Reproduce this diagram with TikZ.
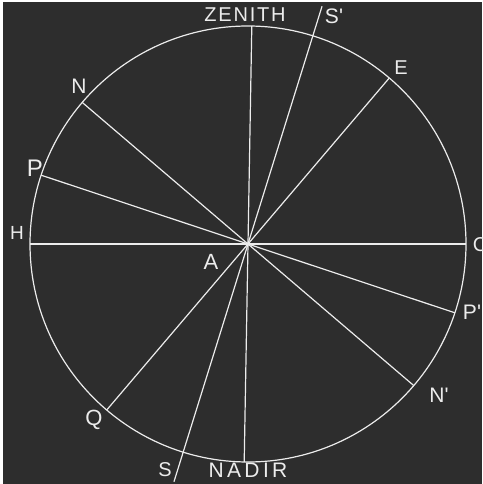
\documentclass[tikz,border=0pt]{standalone}
\usepackage{fontspec}
\newfontfamily\lblfont{Liberation Sans}
\definecolor{board}{HTML}{2D2D2D}
\definecolor{chalk}{HTML}{ECECEC}
\tikzset{
  chalkline/.style={draw=chalk,line width=1.2pt},
  lbl/.style={text=chalk,inner sep=0pt,font=\lblfont\fontsize{#1}{#1}\selectfont},
  lbl/.default=20
}

\begin{document}
\begin{tikzpicture}[x=1pt,y=1pt]
\useasboundingbox (0,0) rectangle (482,484);
\fill[white] (0,0) rectangle (482,484);
\fill[board] (3,0) rectangle (482,482);
\coordinate (A) at (248,240);
\def\rad{218}
\draw[chalkline] (A) circle[radius=\rad];
% points on the circle
\coordinate (zen) at ([shift={(89:\rad)}]A);
\coordinate (nad) at ([shift={(269:\rad)}]A);
\coordinate (E)   at ([shift={(49.6:\rad)}]A);
\coordinate (Q)   at ([shift={(229.6:\rad)}]A);
\coordinate (N)   at ([shift={(139.5:\rad)}]A);
\coordinate (N')  at ([shift={(-40.5:\rad)}]A);
\coordinate (P)   at ([shift={(161.6:\rad)}]A);
\coordinate (P')  at ([shift={(-18.4:\rad)}]A);
\coordinate (H)   at ([shift={(180:\rad)}]A);
\coordinate (C)   at ([shift={(0:\rad)}]A);
\coordinate (S')  at ([shift={(72.7:249)}]A);
\coordinate (S)   at ([shift={(252.7:249)}]A);
% diameters
\draw[chalkline] (zen) -- (nad);
\draw[chalkline] (E) -- (Q);
\draw[chalkline] (N) -- (N');
\draw[chalkline] (P) -- (P');
\draw[chalkline] (H) -- (C);
\draw[chalkline] (S') -- (S);
\fill[chalk] (A) circle[radius=1.8];
% labels
\node[lbl=20] (zenith) at (245,469) {\addfontfeature{LetterSpace=9}ZENITH};
\node[lbl=21] (nadir) at (248,14) {\addfontfeature{LetterSpace=16}NADIR};
\node[lbl=21] (lS') at (334,468) {S'};
\node[lbl=20] (lS) at (165,14) {S};
\node[lbl=20] (lE) at (401,416) {E};
\node[lbl=21] (lN) at (79,398) {N};
\node[lbl=24] (lP) at (35,316) {P};
\node[lbl=19] (lH) at (17,251) {H};
\node[lbl=20] (lC) at (480,239) {C};
\node[lbl=22] (lA) at (211,222) {A};
\node[lbl=21] (lP') at (472,172) {P'};
\node[lbl=21] (lN') at (439,89) {N'};
\node[lbl=22] (lQ) at (94,64) {Q};
\end{tikzpicture}
\end{document}
